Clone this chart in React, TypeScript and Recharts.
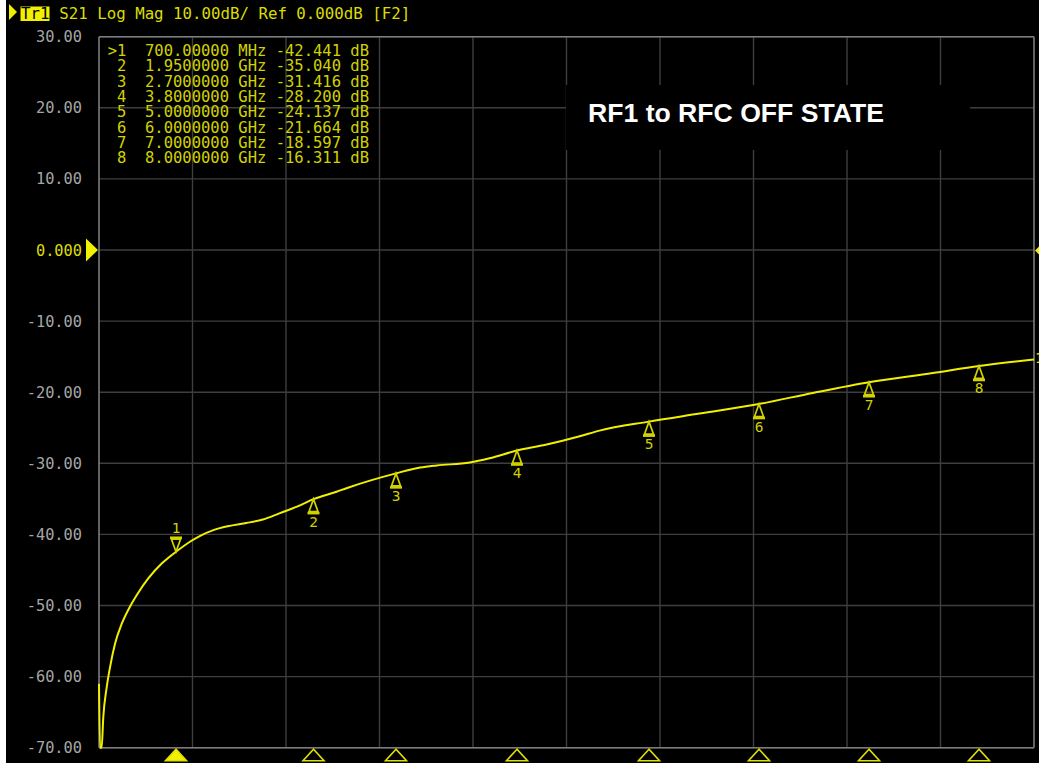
import React from "react";
import {
  ComposedChart,
  Line,
  Scatter,
  XAxis,
  YAxis,
  CartesianGrid,
  ReferenceLine,
} from "recharts";

// ---- Data ----
const traceFreqGHz = [
  0, 0.01, 0.024, 0.039, 0.07, 0.1, 0.145, 0.206, 0.28, 0.357, 0.448, 0.57,
  0.645, 0.7, 0.83, 0.92, 1.04, 1.19, 1.34, 1.49, 1.645, 1.8, 1.95, 2.16, 2.25,
  2.7, 2.92, 3.07, 3.37, 3.55, 3.8, 4.06, 4.37, 4.55, 5.0, 5.46, 6.0, 6.49,
  7.0, 7.58, 8.0, 8.5,
];
const traceDb = [
  -61, -70, -70, -65.7, -61.5, -58.7, -55.4, -52.6, -50.2, -48.2, -46.2, -44.1,
  -43.1, -42.441, -41.0, -40.2, -39.4, -38.8, -38.4, -37.9, -37.0, -36.1,
  -35.04, -34.0, -33.5, -31.416, -30.6, -30.3, -29.9, -29.3, -28.2, -27.4,
  -26.2, -25.4, -24.137, -23.0, -21.664, -20.1, -18.597, -17.3, -16.311, -15.4,
];
const markerNumbers = [1, 2, 3, 4, 5, 6, 7, 8];
const markerFreqGHz = [0.7, 1.95, 2.7, 3.8, 5.0, 6.0, 7.0, 8.0];
const markerDb = [-42.441, -35.04, -31.416, -28.2, -24.137, -21.664, -18.597, -16.311];
const activeMarker = 1;

const yTicks = [30, 20, 10, 0, -10, -20, -30, -40, -50, -60, -70];
const xTicks = [0, 0.85, 1.7, 2.55, 3.4, 4.25, 5.1, 5.95, 6.8, 7.65, 8.5];
const xDomain = [0, 8.5];
const yDomain = [-70, 30];

const traceName = "Tr1";
const headerText = "S21 Log Mag 10.00dB/ Ref 0.000dB [F2]";
const titleText = "RF1 to RFC OFF STATE";
const traceEndLabel = "1";

// ---- Derived tables ----
const traceData = traceFreqGHz.map((f, i) => ({ f, v: traceDb[i] }));
const markerData = markerFreqGHz.map((f, i) => ({
  f,
  v: markerDb[i],
  n: markerNumbers[i],
  active: markerNumbers[i] === activeMarker,
}));
const markerBaseData = markerData.map((m) => ({ ...m, v: yDomain[0] }));

const fmtFreq = (f: number) =>
  f < 1 ? `${(f * 1000).toFixed(5)} MHz` : `${f.toFixed(7)} GHz`;
const tableRows = markerData.map(
  (m) => `${m.active ? ">" : " "}${m.n}  ${fmtFreq(m.f)} ${m.v.toFixed(3)} dB`
);

const MONO = "'DejaVu Sans Mono', monospace";
const YEL = "#dcdc00";
const TRACE = "#f0f000";
const MK = "#d2d200";
const GRID = "#3e3e3e";
const BORDER = "#7c7c7c";

const YTick = (props: any) => {
  const { x, y, payload } = props;
  const v = payload.value;
  const zero = v === 0;
  return (
    <g>
      <text
        x={x - 17}
        y={y + 5.5}
        textAnchor="end"
        fontFamily={MONO}
        fontSize={15.3}
        fill={zero ? YEL : "#a6a6a6"}
      >
        {zero ? "0.000" : v.toFixed(2)}
      </text>
      {zero && (
        <polygon
          points={`${x - 13},${y - 11.5} ${x - 1},${y} ${x - 13},${y + 11.5}`}
          fill="#f0f000"
        />
      )}
    </g>
  );
};

const MarkerShape = (props: any) => {
  const { cx, cy, payload } = props;
  if (cx == null || cy == null) return null;
  const s = payload.active ? -1 : 1;
  return (
    <g>
      <polygon
        points={`${cx},${cy} ${cx - 4.5},${cy + s * 12.5} ${cx + 4.5},${cy + s * 12.5}`}
        fill="none"
        stroke={MK}
        strokeWidth={1.7}
      />
      <line
        x1={cx - 6}
        x2={cx + 6}
        y1={cy + s * 14}
        y2={cy + s * 14}
        stroke={MK}
        strokeWidth={2.6}
      />
      <text
        x={cx}
        y={payload.active ? cy - 18.5 : cy + 27.5}
        textAnchor="middle"
        fontFamily={MONO}
        fontSize={14.5}
        fill={MK}
      >
        {payload.n}
      </text>
    </g>
  );
};

const BaseMarkerShape = (props: any) => {
  const { cx, cy, payload } = props;
  if (cx == null || cy == null) return null;
  return (
    <polygon
      points={`${cx},${cy + 1.5} ${cx - 10.5},${cy + 13} ${cx + 10.5},${cy + 13}`}
      fill={payload.active ? "#f0f000" : "none"}
      stroke="#e0e000"
      strokeWidth={1.6}
    />
  );
};

export default function App() {
  return (
    <div
      style={{
        position: "absolute",
        left: 0,
        top: 0,
        width: 1039,
        height: 763,
        background: "#000",
        overflow: "hidden",
      }}
    >
      <ComposedChart
        width={1039}
        height={763}
        margin={{ top: 36.7, right: 5, bottom: 15.3, left: 0 }}
        data={traceData}
      >
        <CartesianGrid stroke={GRID} strokeWidth={1.4} vertical={false} />
        <XAxis
          type="number"
          dataKey="f"
          domain={xDomain}
          ticks={xTicks}
          height={0}
          tick={false}
          axisLine={false}
          tickLine={false}
        />
        <YAxis
          type="number"
          domain={yDomain}
          ticks={yTicks}
          width={99}
          axisLine={false}
          tickLine={false}
          tickSize={0}
          tickMargin={0}
          tick={<YTick />}
          interval={0}
        />
        {xTicks.slice(1, -1).map((t) => (
          <ReferenceLine key={t} x={t} stroke={GRID} strokeWidth={1.4} />
        ))}
        <ReferenceLine x={xDomain[0]} stroke={BORDER} strokeWidth={1.6} />
        <ReferenceLine x={xDomain[1]} stroke={BORDER} strokeWidth={1.6} />
        <ReferenceLine y={yDomain[0]} stroke={BORDER} strokeWidth={1.6} />
        <ReferenceLine y={yDomain[1]} stroke={BORDER} strokeWidth={1.6} />
        <Line
          data={traceData}
          dataKey="v"
          type="monotone"
          stroke={TRACE}
          strokeWidth={2}
          dot={false}
          isAnimationActive={false}
        />
        <Scatter
          data={markerData}
          dataKey="v"
          shape={<MarkerShape />}
          isAnimationActive={false}
        />
        <Scatter
          data={markerBaseData}
          dataKey="v"
          shape={<BaseMarkerShape />}
          isAnimationActive={false}
        />
      </ComposedChart>

      {/* instrument overlay: header, marker table, title */}
      <svg
        width={1039}
        height={763}
        style={{ position: "absolute", left: 0, top: 0, pointerEvents: "none" }}
      >
        <rect x={0} y={0} width={6} height={763} fill="#fff" />
        <polygon points="9,4 17,12 9,20" fill="#f0f000" />
        <rect x={20.5} y={6.5} width={29} height={14.5} fill="#f0f000" />
        <text x={21} y={19.3} fontFamily={MONO} fontSize={15.75} fill="#000">
          {traceName}
        </text>
        <text x={59.3} y={19.3} fontFamily={MONO} fontSize={15.75} fill={YEL}>
          {headerText}
        </text>
        {tableRows.map((row, i) => (
          <text
            key={i}
            x={107.7}
            y={56 + i * 15.33}
            fontFamily={MONO}
            fontSize={15.5}
            fill={MK}
            style={{ whiteSpace: "pre" }}
            xmlSpace="preserve"
          >
            {row}
          </text>
        ))}
        <rect x={566} y={85} width={404} height={65} fill="#000" />
        <text
          x={588}
          y={121.7}
          fontFamily="'Liberation Sans', Arial, sans-serif"
          fontWeight="bold"
          fontSize={26.6}
          fill="#fff"
        >
          {titleText}
        </text>
        <polygon points="1035,250.5 1040,245.5 1045,250.5 1040,255.5" fill="#f0f000" />
        <text x={1035} y={363} fontFamily={MONO} fontSize={14} fill="#f0f000">
          {traceEndLabel}
        </text>
      </svg>
    </div>
  );
}
